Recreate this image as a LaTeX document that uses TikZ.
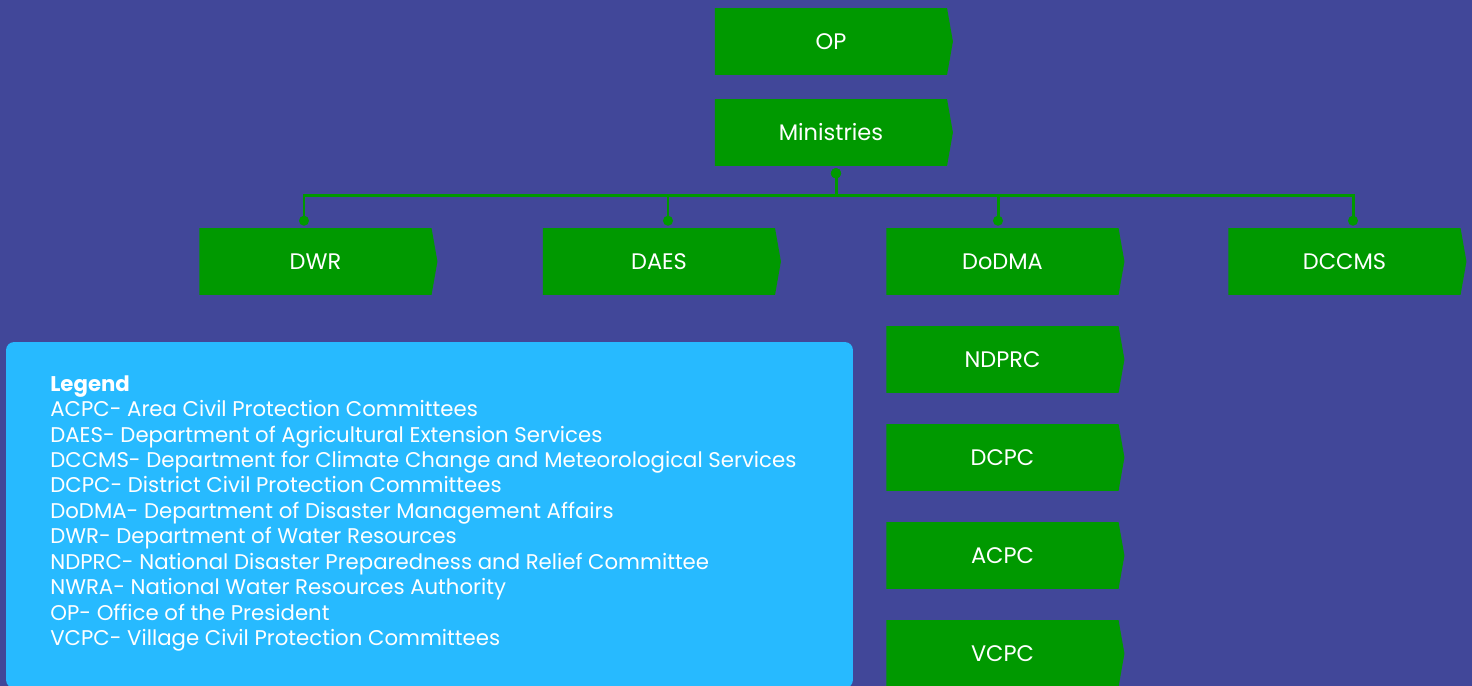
\documentclass[tikz,border=0pt]{standalone}
\usepackage{fontspec}
\setmainfont{Poppins}
\usetikzlibrary{shapes.symbols,arrows.meta}
\definecolor{bgblue}{RGB}{65,71,153}
\definecolor{unitgreen}{RGB}{0,153,0}
\definecolor{keyblue}{RGB}{39,186,255}
\tikzset{
  unit/.style={signal, signal to=east, signal pointer angle=160, fill=unitgreen,
    text=white, minimum width=4.76cm, minimum height=1.34cm, inner sep=0pt,
    xshift=-0.06cm, font=\fontsize{12.8}{15}\selectfont},
  link/.style={draw=unitgreen, line width=1.7pt,
    {Circle[length=5.6pt]}-{Circle[length=5.6pt]}},
  keybox/.style={fill=keyblue, rounded corners=0.16cm, minimum width=16.94cm,
    minimum height=6.92cm},
  keytext/.style={text=white, align=left, inner sep=0pt,
    font=\fontsize{12.1}{14.5}\selectfont},
}
\begin{document}
\begin{tikzpicture}[x=0.02cm, y=-0.02cm]
% background
\fill[bgblue] (0,0) rectangle (1472,686);
\useasboundingbox (0,0) rectangle (1472,686);
% top of the chart
\node[unit] (op) at (834,41.5) {OP};
\node[unit] (min) at (834,132.5) {Ministries};
% departments
\node[unit] (dwr) at (318.5,261.5) {DWR};
\node[unit] (daes) at (662,261.5) {DAES};
\node[unit] (dodma) at (1005.5,261.5) {DoDMA};
\node[unit] (dccms) at (1347.5,261.5) {DCCMS};
% committees under DoDMA
\node[unit] (ndprc) at (1005.5,359.5) {NDPRC};
\node[unit] (dcpc) at (1005.5,457.5) {DCPC};
\node[unit] (acpc) at (1005.5,555.5) {ACPC};
\node[unit] (vcpc) at (1005.5,653.5) {VCPC};
% connector ends
\coordinate (mindot) at ([shift={(5,2)}]min.south);
\coordinate (bus) at ([shift={(5,29)}]min.south);
\coordinate (dwrdot) at ([shift={(-11.5,-2)}]dwr.north);
\coordinate (daesdot) at ([shift={(9,-2)}]daes.north);
\coordinate (dodmadot) at ([shift={(-4.5,-2)}]dodma.north);
\coordinate (dccmsdot) at ([shift={(8.5,-2)}]dccms.north);
\foreach \d in {dwr,daes,dodma,dccms}
  \draw[link] (mindot) -- (mindot |- bus) -| (\d dot);
% legend
\node[keybox] (key) at (429.5,515) {};
\node[keytext, anchor=north west] (keylist) at (50,375) {\textbf{Legend}\\
ACPC- Area Civil Protection Committees\\
DAES- Department of Agricultural Extension Services\\
DCCMS- Department for Climate Change and Meteorological Services\\
DCPC- District Civil Protection Committees\\
DoDMA- Department of Disaster Management Affairs\\
DWR- Department of Water Resources\\
NDPRC- National Disaster Preparedness and Relief Committee\\
NWRA- National Water Resources Authority\\
OP- Office of the President\\
VCPC- Village Civil Protection Committees};
\end{tikzpicture}
\end{document}
